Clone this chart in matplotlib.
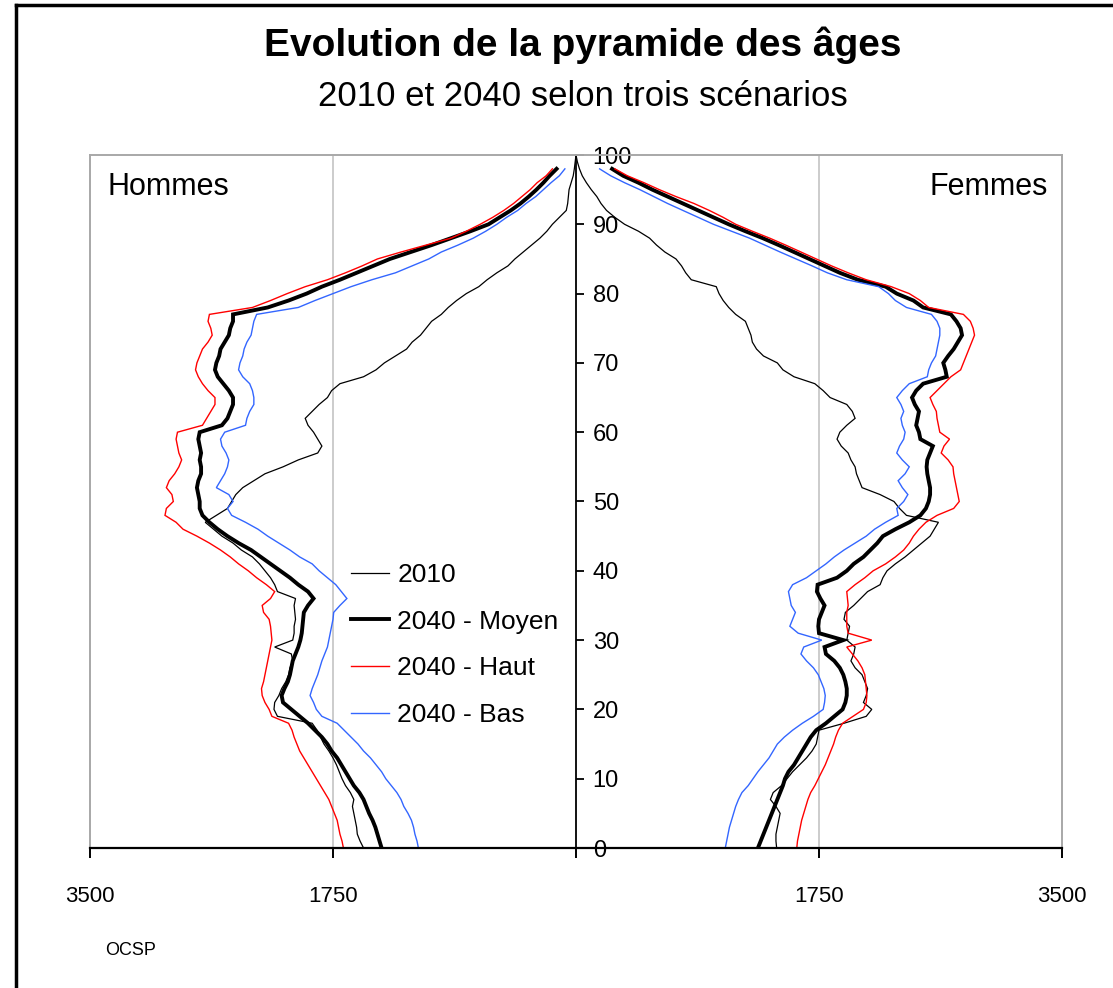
import matplotlib
matplotlib.use('Agg')
import matplotlib.pyplot as plt
from matplotlib.lines import Line2D
import numpy as np

plt.rcParams['font.family'] = ['Liberation Sans', 'DejaVu Sans']

# ---------------- data ----------------
ages_2010 = list(range(0, 101))
ages_2040 = list(range(0, 99))

hommes_2010 = [
    1530, 1555, 1575, 1580, 1590, 1600, 1610, 1600, 1625, 1660,
    1685, 1705, 1725, 1750, 1780, 1815, 1840, 1865, 1900, 2150,
    2175, 2170, 2140, 2120, 2090, 2070, 2060, 2040, 2050, 2170,
    2040, 2030, 2030, 2020, 2025, 2030, 2020, 2150, 2170, 2200,
    2240, 2280, 2330, 2410, 2470, 2550, 2610, 2670, 2590, 2510,
    2480, 2450, 2400, 2320, 2240, 2110, 2000, 1860, 1830, 1860,
    1890, 1930, 1950, 1900, 1850, 1790, 1760, 1700, 1530, 1440,
    1380, 1300, 1220, 1180, 1120, 1080, 1040, 970, 920, 860,
    790, 700, 640, 570, 490, 440, 380, 320, 260, 210,
    170, 120, 70, 60, 55, 50, 35, 20, 12, 6, 0]

hommes_moyen = [
    1400, 1415, 1430, 1445, 1465, 1490, 1510, 1530, 1560, 1600,
    1630, 1660, 1690, 1720, 1760, 1790, 1830, 1880, 1930, 1990,
    2050, 2110, 2120, 2100, 2075, 2060, 2050, 2040, 2020, 2000,
    1985, 1975, 1970, 1965, 1960, 1930, 1890, 1930, 2000, 2060,
    2130, 2200, 2270, 2340, 2430, 2510, 2580, 2640, 2690, 2710,
    2710, 2720, 2730, 2720, 2700, 2700, 2710, 2700, 2710, 2720,
    2710, 2550, 2510, 2490, 2470, 2470, 2500, 2540, 2580, 2600,
    2590, 2570, 2560, 2530, 2500, 2490, 2470, 2470, 2220, 2070,
    1940, 1830, 1700, 1580, 1460, 1340, 1190, 1040, 900, 760,
    630, 550, 470, 400, 340, 285, 235, 190, 140]

hommes_haut = [
    1675, 1685, 1700, 1710, 1720, 1740, 1760, 1780, 1810, 1840,
    1870, 1900, 1930, 1960, 1990, 2010, 2030, 2045, 2070, 2190,
    2210, 2240, 2260, 2265, 2250, 2240, 2230, 2220, 2210, 2200,
    2190, 2195, 2200, 2210, 2250, 2260, 2200, 2170, 2230, 2300,
    2360, 2430, 2490, 2560, 2640, 2730, 2830, 2880, 2960, 2950,
    2900, 2910, 2950, 2930, 2890, 2860, 2840, 2860, 2870, 2880,
    2870, 2690, 2660, 2630, 2600, 2600, 2650, 2690, 2720, 2740,
    2730, 2710, 2690, 2650, 2620, 2630, 2650, 2640, 2330, 2200,
    2080, 1950, 1790, 1660, 1540, 1430, 1260, 1080, 900, 790,
    690, 600, 520, 450, 390, 330, 280, 215, 170]

hommes_bas = [
    1135, 1145, 1160, 1170, 1185, 1210, 1240, 1260, 1290, 1330,
    1370, 1400, 1440, 1480, 1530, 1570, 1620, 1670, 1720, 1830,
    1870, 1890, 1915, 1900, 1880, 1860, 1845, 1830, 1810, 1790,
    1780, 1770, 1760, 1750, 1745, 1700, 1650, 1690, 1730, 1790,
    1850, 1900, 1990, 2060, 2140, 2220, 2290, 2380, 2480, 2510,
    2470, 2500, 2590, 2560, 2530, 2510, 2500, 2520, 2550, 2560,
    2530, 2380, 2370, 2350, 2320, 2320, 2330, 2350, 2400, 2430,
    2420, 2400, 2390, 2370, 2340, 2330, 2320, 2300, 2000, 1880,
    1750, 1620, 1470, 1300, 1180, 1060, 970, 850, 740, 650,
    570, 500, 420, 360, 290, 235, 180, 120, 80]

femmes_2010 = [
    1445, 1440, 1440, 1450, 1460, 1470, 1440, 1400, 1420, 1480,
    1520, 1560, 1610, 1660, 1700, 1730, 1740, 1750, 1930, 2090,
    2130, 2070, 2090, 2100, 2080, 2060, 2010, 1980, 2000, 2010,
    1950, 1960, 1970, 1930, 1940, 2000, 2050, 2100, 2190, 2210,
    2240, 2300, 2370, 2430, 2490, 2550, 2580, 2610, 2380, 2330,
    2290, 2190, 2060, 2040, 2020, 2010, 1980, 1960, 1910, 1880,
    1900, 1950, 2010, 1990, 1950, 1830, 1780, 1720, 1570, 1490,
    1450, 1350, 1300, 1270, 1260, 1240, 1220, 1150, 1100, 1060,
    1030, 1010, 830, 790, 760, 720, 640, 580, 530, 450,
    350, 280, 220, 180, 150, 110, 75, 45, 25, 10, 0]

femmes_moyen = [
    1310, 1330, 1350, 1370, 1390, 1410, 1430, 1450, 1470, 1490,
    1505, 1530, 1570, 1600, 1630, 1660, 1690, 1730, 1800, 1860,
    1920, 1940, 1950, 1950, 1940, 1925, 1900, 1860, 1800, 1790,
    1925, 1750, 1745, 1750, 1770, 1790, 1760, 1735, 1740, 1880,
    1950, 2000, 2070, 2120, 2170, 2210, 2300, 2400, 2480, 2520,
    2540, 2550, 2550, 2540, 2530, 2525, 2530, 2550, 2570, 2480,
    2470, 2450, 2460, 2470, 2440, 2420, 2450, 2500, 2670, 2660,
    2645, 2680, 2720, 2750, 2780, 2770, 2740, 2700, 2500, 2430,
    2310, 2230, 2030, 1900, 1790, 1680, 1570, 1460, 1345, 1220,
    1100, 990, 880, 770, 660, 550, 450, 340, 260]

femmes_haut = [
    1590, 1595, 1605, 1615, 1625, 1640, 1655, 1670, 1690, 1720,
    1745, 1770, 1795, 1815, 1835, 1855, 1870, 1890, 1920, 1995,
    2070, 2090, 2095, 2090, 2085, 2080, 2060, 2030, 1990, 1950,
    2130, 1960, 1950, 1950, 1950, 1960, 1955, 1950, 2010, 2080,
    2140, 2230, 2300, 2360, 2400, 2430, 2470, 2520, 2600, 2720,
    2760, 2750, 2740, 2730, 2720, 2715, 2680, 2630, 2650, 2690,
    2620, 2610, 2600, 2595, 2570, 2550, 2600, 2650, 2700, 2770,
    2790, 2810, 2830, 2850, 2870, 2860, 2840, 2790, 2540, 2480,
    2400, 2270, 2090, 1960, 1840, 1730, 1620, 1510, 1395, 1270,
    1150, 1060, 960, 850, 720, 600, 490, 370, 280]

femmes_bas = [
    1075, 1085, 1095, 1105, 1120, 1135, 1150, 1170, 1195, 1240,
    1275, 1310, 1350, 1390, 1420, 1450, 1500, 1560, 1630, 1710,
    1780, 1790, 1795, 1785, 1765, 1745, 1710, 1660, 1620, 1640,
    1770, 1600, 1540, 1560, 1580, 1550, 1540, 1530, 1560, 1660,
    1730, 1800, 1860, 1930, 2010, 2090, 2150, 2230, 2320, 2310,
    2360, 2390, 2350, 2320, 2370, 2400, 2350, 2310, 2330, 2360,
    2370, 2350, 2340, 2360, 2340, 2310, 2350, 2400, 2530, 2540,
    2560, 2590, 2600, 2610, 2620, 2620, 2600, 2560, 2380, 2300,
    2250, 2180, 1950, 1810, 1700, 1585, 1470, 1360, 1250, 1120,
    990, 880, 770, 660, 560, 460, 350, 250, 170]

x_ticks = [-3500, -1750, 0, 1750, 3500]
x_tick_labels = ['3500', '1750', '', '1750', '3500']
y_ticks = list(range(0, 101, 10))
legend_labels = ['2010', '2040 - Moyen', '2040 - Haut', '2040 - Bas']

# ---------------- figure ----------------
W, H = 1113, 988
fig = plt.figure(figsize=(W / 100, H / 100), dpi=100)
ax = fig.add_axes([90 / W, 1 - 848 / H, (1062 - 90) / W, (848 - 155) / H])

styles = [
    (hommes_2010, femmes_2010, ages_2010, 'black', 0.9),
    (hommes_moyen, femmes_moyen, ages_2040, 'black', 2.8),
    (hommes_haut, femmes_haut, ages_2040, '#ff0000', 1.0),
    (hommes_bas, femmes_bas, ages_2040, '#3366ff', 1.0),
]
handles = []
for (h, f, a, c, lw), lab in zip(styles, legend_labels):
    ln, = ax.plot(-np.asarray(h), a, color=c, lw=lw, label=lab,
                  solid_joinstyle='miter')
    ax.plot(np.asarray(f), a, color=c, lw=lw, solid_joinstyle='miter')
    handles.append(ln)

ax.set_xlim(-3500, 3500)
ax.set_ylim(0, 100)

# vertical grid lines
for gx in (-1750, 1750):
    ax.axvline(gx, color='#c8c8c8', lw=1.3, zorder=0)

# spines
for s in ('top', 'right'):
    ax.spines[s].set_color('#a8a8a8')
    ax.spines[s].set_linewidth(1.4)
ax.spines['bottom'].set_color('black')
ax.spines['bottom'].set_linewidth(1.6)
ax.spines['left'].set_position(('data', 0))
ax.spines['left'].set_color('black')
ax.spines['left'].set_linewidth(1.3)
ax.axvline(-3500, color='#a8a8a8', lw=1.4, clip_on=False, zorder=0)

ax.set_xticks(x_ticks)
ax.set_xticklabels(x_tick_labels)
ax.tick_params(axis='x', direction='out', length=7, width=1.4, pad=20,
               labelsize=16, colors='black')
ax.set_yticks(y_ticks)
ax.set_yticklabels([str(v) for v in y_ticks])
ax.tick_params(axis='y', direction='in', length=6, width=1.3, pad=-12,
               labelsize=17)
for lbl in ax.get_yticklabels():
    lbl.set_horizontalalignment('left')

ax.legend(handles, legend_labels, loc='upper left',
          bbox_to_anchor=(351 / W, 1 - 563 / H), bbox_transform=fig.transFigure,
          frameon=False, fontsize=19, handlelength=1.45, handletextpad=0.3,
          labelspacing=0.86, borderpad=0, borderaxespad=0)

# texts
fig.text(583 / W, 1 - 45 / H, 'Evolution de la pyramide des âges',
         ha='center', va='center', fontsize=28, fontweight='bold')
fig.text(583 / W, 1 - 97 / H, '2010 et 2040 selon trois scénarios',
         ha='center', va='center', fontsize=25)
fig.text(107 / W, 1 - 187 / H, 'Hommes', ha='left', va='center', fontsize=22)
fig.text(1048 / W, 1 - 187 / H, 'Femmes', ha='right', va='center', fontsize=22)
fig.text(105 / W, 1 - 950 / H, 'OCSP', ha='left', va='center', fontsize=13)

# outer frame (left and top)
fig.add_artist(Line2D([16 / W, 16 / W], [0, 1 - 5 / H], transform=fig.transFigure,
                      color='black', lw=2.5))
fig.add_artist(Line2D([16 / W, 1], [1 - 5 / H, 1 - 5 / H], transform=fig.transFigure,
                      color='black', lw=2.5))

fig.savefig('out.png', dpi=100)
